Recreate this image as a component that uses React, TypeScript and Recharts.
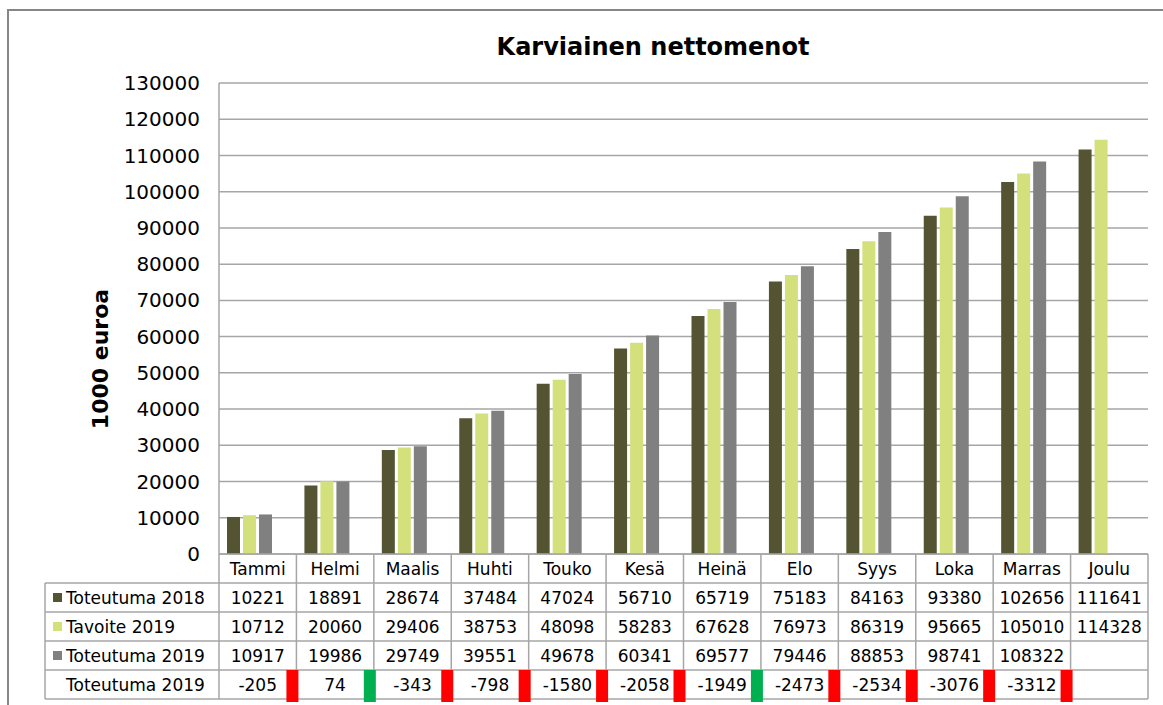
import { BarChart, Bar, XAxis, YAxis, CartesianGrid } from "recharts";

const MONTHS = ["Tammi", "Helmi", "Maalis", "Huhti", "Touko", "Kesä", "Heinä", "Elo", "Syys", "Loka", "Marras", "Joulu"];
const TOT_2018 = [10221, 18891, 28674, 37484, 47024, 56710, 65719, 75183, 84163, 93380, 102656, 111641];
const TAV_2019 = [10712, 20060, 29406, 38753, 48098, 58283, 67628, 76973, 86319, 95665, 105010, 114328];
const TOT_2019 = [10917, 19986, 29749, 39551, 49678, 60341, 69577, 79446, 88853, 98741, 108322, null];
const EROTUS = [-205, 74, -343, -798, -1580, -2058, -1949, -2473, -2534, -3076, -3312, null];
const Y_TICKS = [0, 10000, 20000, 30000, 40000, 50000, 60000, 70000, 80000, 90000, 100000, 110000, 120000, 130000];

const SERIES = [
  { key: "t18", name: "Toteutuma 2018", color: "#545432" },
  { key: "v19", name: "Tavoite 2019", color: "#d4e07c" },
  { key: "t19", name: "Toteutuma 2019", color: "#808080" },
];

const data = MONTHS.map((m, i) => ({
  month: m,
  t18: TOT_2018[i],
  v19: TAV_2019[i],
  t19: TOT_2019[i],
  ero: EROTUS[i],
}));

const W = 1163;
const H = 705;
const PLOT_L = 219;
const PLOT_R = 1148;
const PLOT_T = 83;
const PLOT_B = 554;
const BAND = (PLOT_R - PLOT_L) / MONTHS.length;
const ROW = 29;
const TABLE_L = 45;
const FONT = "'DejaVu Sans', Verdana, sans-serif";
const GRID = "#a6a6a6";

/* eslint-disable @typescript-eslint/no-explicit-any */
function TableColumn(props: any) {
  const { x, y, payload } = props;
  const i = payload.index;
  const left = x - BAND / 2;
  const right = x + BAND / 2;
  const vals = [TOT_2018[i], TAV_2019[i], TOT_2019[i], EROTUS[i]];
  const d = EROTUS[i];
  const prev = i === 0 ? 0 : EROTUS[i - 1];
  const markColor = d != null && prev != null && d >= prev ? "#00b050" : "#ff0000";
  return (
    <g>
      {i === 0 && (
        <g>
          {[1, 2, 3, 4, 5].map((r) => (
            <line key={r} x1={TABLE_L} x2={left + BAND * MONTHS.length} y1={y + ROW * r} y2={y + ROW * r} stroke={GRID} strokeWidth={1.5} />
          ))}
          <line x1={TABLE_L} x2={TABLE_L} y1={y + ROW} y2={y + ROW * 5} stroke={GRID} strokeWidth={1.5} />
          {MONTHS.map((_, k) => (
            <line key={k} x1={left + BAND * k} x2={left + BAND * k} y1={y} y2={y + ROW * 5} stroke={GRID} strokeWidth={1.5} />
          ))}
          <line x1={left + BAND * MONTHS.length} x2={left + BAND * MONTHS.length} y1={y} y2={y + ROW * 5} stroke={GRID} strokeWidth={1.5} />
          {SERIES.map((s, r) => (
            <g key={s.key}>
              <rect x={53} y={y + ROW * (r + 1) + 10} width={9} height={9} fill={s.color} />
              <text x={66} y={y + ROW * (r + 1) + 15} dy="0.36em" fontSize={17} fontFamily={FONT} fill="#000">
                {s.name}
              </text>
            </g>
          ))}
          <text x={66} y={y + ROW * 4 + 15} dy="0.36em" fontSize={17} fontFamily={FONT} fill="#000">
            Toteutuma 2019
          </text>
        </g>
      )}
      <text x={x} y={y + 15} dy="0.36em" textAnchor="middle" fontSize={17} fontFamily={FONT} fill="#000">
        {payload.value}
      </text>
      {vals.map((v, r) =>
        v == null ? null : (
          <text key={r} x={x} y={y + ROW * (r + 1) + 15} dy="0.36em" textAnchor="middle" fontSize={17} fontFamily={FONT} fill="#000">
            {v}
          </text>
        )
      )}
      {d != null && <rect x={right - 10} y={y + ROW * 4} width={12} height={32} fill={markColor} />}
    </g>
  );
}
/* eslint-enable @typescript-eslint/no-explicit-any */

export default function App() {
  return (
    <div style={{ position: "fixed", left: 0, top: 0, width: W, height: H, background: "#fff", overflow: "hidden" }}>
      <svg width={W} height={H} style={{ position: "absolute", left: 0, top: 0 }}>
        <rect x={8} y={10} width={1300} height={900} fill="#fff" stroke="#868686" strokeWidth={2} />
        <text x={653} y={46} dy="0.36em" textAnchor="middle" fontSize={24} fontWeight="bold" fontFamily={FONT} fill="#000">
          Karviainen nettomenot
        </text>
        <text
          x={100}
          y={359}
          dy="0.36em"
          textAnchor="middle"
          transform="rotate(-90 100 359)"
          fontSize={22}
          fontWeight="bold"
          fontFamily={FONT}
          fill="#000"
        >
          1000 euroa
        </text>
      </svg>
      <div style={{ position: "absolute", left: 0, top: 0 }}>
        <BarChart
          width={W}
          height={H}
          data={data}
          margin={{ top: PLOT_T, left: PLOT_L - 80, right: W - PLOT_R, bottom: 0 }}
          barSize={13}
          barGap={3}
        >
          <CartesianGrid horizontal vertical={false} stroke={GRID} strokeWidth={1.5} />
          <XAxis
            dataKey="month"
            height={H - PLOT_B}
            tickSize={0}
            tickMargin={0}
            axisLine={{ stroke: GRID, strokeWidth: 1.5 }}
            tickLine={false}
            interval={0}
            tick={<TableColumn />}
          />
          <YAxis
            width={80}
            domain={[0, 130000]}
            allowDataOverflow
            ticks={Y_TICKS}
            interval={0}
            tickSize={0}
            tickMargin={19}
            tickLine={false}
            axisLine={{ stroke: GRID, strokeWidth: 1.5 }}
            tick={{ fontSize: 20, fontFamily: FONT, fill: "#000" }}
          />
          {SERIES.map((s) => (
            <Bar key={s.key} dataKey={s.key} name={s.name} fill={s.color} isAnimationActive={false} />
          ))}
          <Bar dataKey="ero" name="Erotus" fill="#ffffff" fillOpacity={0} isAnimationActive={false} />
        </BarChart>
      </div>
    </div>
  );
}
